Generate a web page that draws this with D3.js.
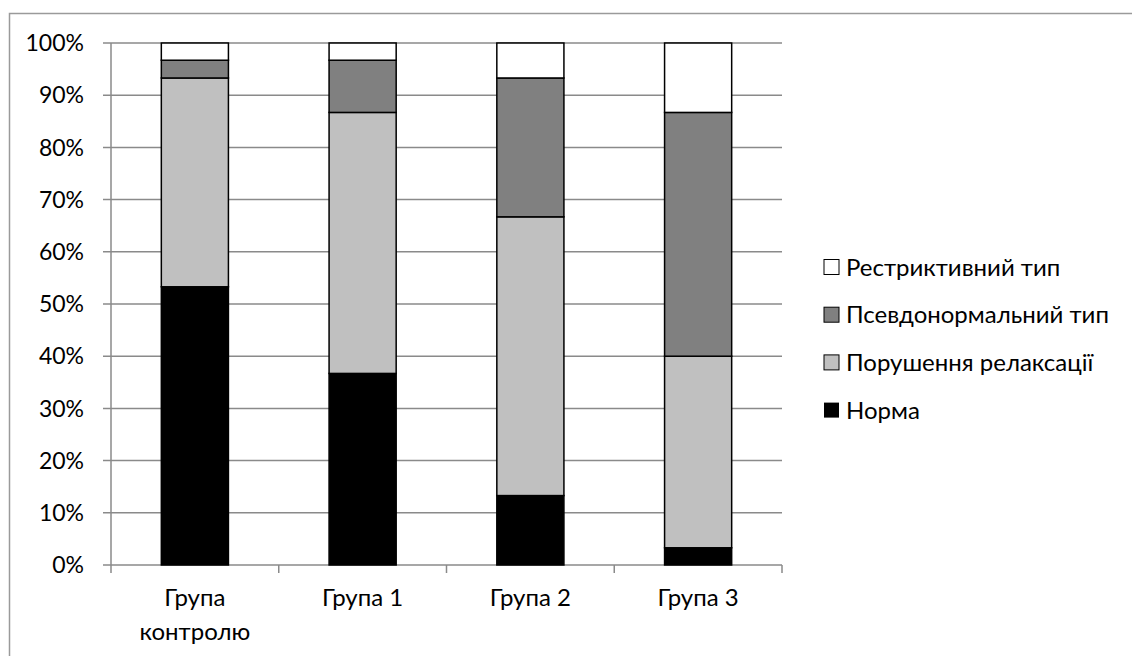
<!DOCTYPE html>
<html><head><meta charset="utf-8">
<script src="https://cdn.jsdelivr.net/npm/d3@7"></script>
<style>body{margin:0;background:#fff}svg{display:block}text{font-family:Lato,"Open Sans",sans-serif;fill:#000}</style>
</head><body><svg id="c" width="1132" height="656"></svg>
<script>
const categories = ["Група контролю", "Група 1", "Група 2", "Група 3"];
const seriesNames = ["Норма", "Порушення релаксації", "Псевдонормальний тип", "Рестриктивний тип"];
const norma = [53.3, 36.7, 13.3, 3.3];
const porushennia = [40.0, 50.0, 53.4, 36.7];
const psevdo = [3.4, 10.0, 26.6, 46.7];
const restryktyvnyi = [3.3, 3.3, 6.7, 13.3];
const yTicks = [0, 10, 20, 30, 40, 50, 60, 70, 80, 90, 100];
const colors = ["#000000", "#c0c0c0", "#808080", "#ffffff"];

const svg = d3.select("#c");
// outer border
svg.append("rect").attr("x", 9.5).attr("y", 13.5).attr("width", 1140).attr("height", 700)
  .attr("fill", "none").attr("stroke", "#9a9a9a").attr("stroke-width", 1.5);

const L = 111, R = 782, T = 43, B = 565;
const x = d3.scaleBand().domain(categories).range([L, R]).paddingInner(0.6).paddingOuter(0.3);
const xb = d3.scaleBand().domain(categories).range([L, R]);
const y = d3.scaleLinear().domain([0, 100]).range([B, T]);

// gridlines
svg.append("g").selectAll("line").data(yTicks).join("line")
  .attr("x1", L - 8).attr("x2", R).attr("y1", d => y(d)).attr("y2", d => y(d))
  .attr("stroke", "#8a8a8a").attr("stroke-width", 1.5);

// y axis line
svg.append("line").attr("x1", L).attr("x2", L).attr("y1", T).attr("y2", B)
  .attr("stroke", "#8a8a8a").attr("stroke-width", 1.5);

// y tick labels
svg.append("g").selectAll("text").data(yTicks).join("text")
  .attr("x", 84).attr("y", d => y(d)).attr("dy", "0.36em").attr("text-anchor", "end")
  .attr("font-size", 23).text(d => d + "%");

// x axis tick marks
const xTickPos = categories.map(c => xb(c)).concat([R]);
svg.append("g").selectAll("line").data(xTickPos).join("line")
  .attr("x1", d => d).attr("x2", d => d).attr("y1", B).attr("y2", B + 8)
  .attr("stroke", "#8a8a8a").attr("stroke-width", 1.5);

// stacked bars
const table = categories.map((c, i) => ({cat: c, s0: norma[i], s1: porushennia[i], s2: psevdo[i], s3: restryktyvnyi[i]}));
const stack = d3.stack().keys(["s0", "s1", "s2", "s3"]);
const layers = stack(table);
svg.append("g").selectAll("g").data(layers).join("g")
  .attr("fill", (d, i) => colors[i])
  .selectAll("rect").data(d => d).join("rect")
  .attr("x", d => x(d.data.cat)).attr("width", x.bandwidth())
  .attr("y", d => y(d[1])).attr("height", d => y(d[0]) - y(d[1]))
  .attr("stroke", "#000").attr("stroke-width", 1.5);

// x labels
const xl = svg.append("g").selectAll("text").data(categories).join("text")
  .attr("x", d => xb(d) + xb.bandwidth() / 2).attr("y", 606)
  .attr("text-anchor", "middle").attr("font-size", 24);
xl.each(function(d) {
  const words = d === "Група контролю" ? ["Група", "контролю"] : [d];
  const t = d3.select(this);
  words.forEach((w, k) => t.append("tspan").attr("x", xb(d) + xb.bandwidth() / 2).attr("dy", k ? 34 : 0).text(w));
});

// legend
const legendOrder = [3, 2, 1, 0];
const lg = svg.append("g").selectAll("g").data(legendOrder).join("g")
  .attr("transform", (d, i) => `translate(824, ${267 + i * 47.7})`);
lg.append("rect").attr("x", 0).attr("y", -7.5).attr("width", 15).attr("height", 15)
  .attr("fill", d => colors[d]).attr("stroke", d => d === 0 ? "none" : "#000").attr("stroke-width", 1);
lg.append("text").attr("x", 22).attr("y", 0).attr("dy", "0.36em").attr("font-size", 24)
  .text(d => seriesNames[d]);
</script></body></html>
